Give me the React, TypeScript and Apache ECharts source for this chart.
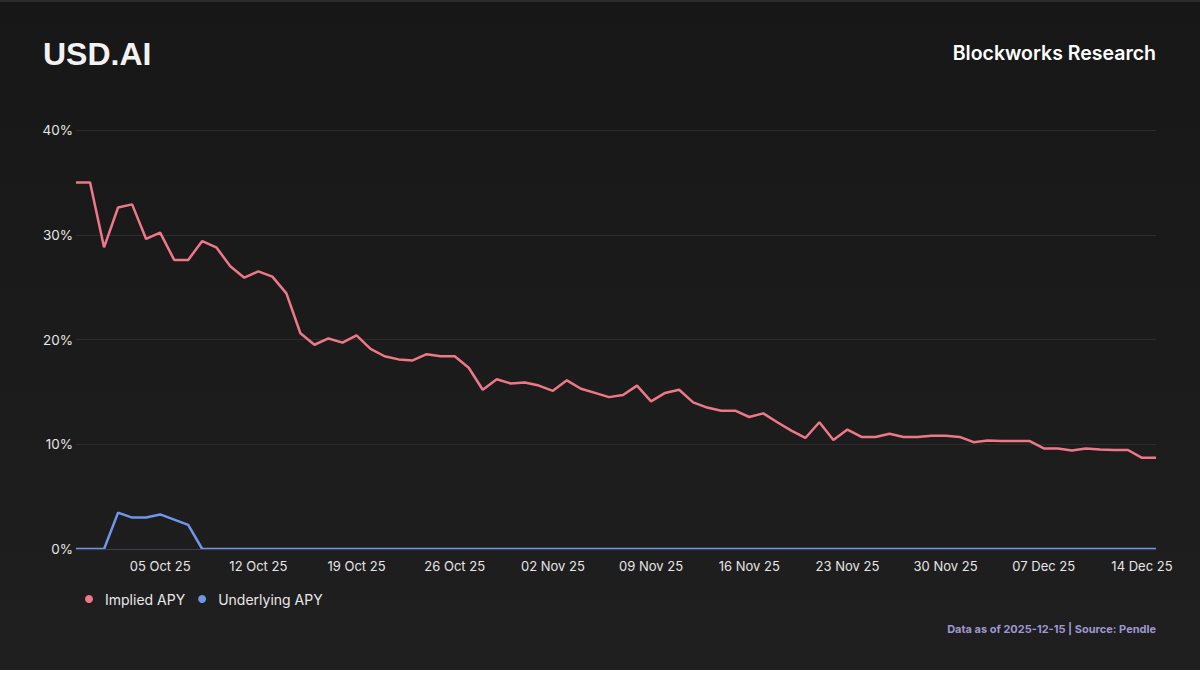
import React, { useEffect, useRef } from "react";
import * as echarts from "echarts";

const dates: string[] = [
  "29 Sep 25", "30 Sep 25", "01 Oct 25", "02 Oct 25", "03 Oct 25", "04 Oct 25", "05 Oct 25",
  "06 Oct 25", "07 Oct 25", "08 Oct 25", "09 Oct 25", "10 Oct 25", "11 Oct 25", "12 Oct 25",
  "13 Oct 25", "14 Oct 25", "15 Oct 25", "16 Oct 25", "17 Oct 25", "18 Oct 25", "19 Oct 25",
  "20 Oct 25", "21 Oct 25", "22 Oct 25", "23 Oct 25", "24 Oct 25", "25 Oct 25", "26 Oct 25",
  "27 Oct 25", "28 Oct 25", "29 Oct 25", "30 Oct 25", "31 Oct 25", "01 Nov 25", "02 Nov 25",
  "03 Nov 25", "04 Nov 25", "05 Nov 25", "06 Nov 25", "07 Nov 25", "08 Nov 25", "09 Nov 25",
  "10 Nov 25", "11 Nov 25", "12 Nov 25", "13 Nov 25", "14 Nov 25", "15 Nov 25", "16 Nov 25",
  "17 Nov 25", "18 Nov 25", "19 Nov 25", "20 Nov 25", "21 Nov 25", "22 Nov 25", "23 Nov 25",
  "24 Nov 25", "25 Nov 25", "26 Nov 25", "27 Nov 25", "28 Nov 25", "29 Nov 25", "30 Nov 25",
  "01 Dec 25", "02 Dec 25", "03 Dec 25", "04 Dec 25", "05 Dec 25", "06 Dec 25", "07 Dec 25",
  "08 Dec 25", "09 Dec 25", "10 Dec 25", "11 Dec 25", "12 Dec 25", "13 Dec 25", "14 Dec 25",
  "15 Dec 25",
];

const impliedApy: number[] = [
  35.0, 35.0, 28.8, 32.6, 32.9, 29.6, 30.2, 27.6, 27.6, 29.4, 28.8, 27.0, 25.9, 26.5, 26.0, 24.4,
  20.6, 19.5, 20.1, 19.7, 20.4, 19.1, 18.4, 18.1, 18.0, 18.6, 18.4, 18.4, 17.3, 15.2, 16.2, 15.8,
  15.9, 15.6, 15.1,
  16.1, 15.3, 14.9, 14.5, 14.7, 15.6, 14.1, 14.9, 15.2, 14.0, 13.5, 13.2, 13.2, 12.6, 12.95, 12.1,
  11.3, 10.6, 12.1, 10.4,
  11.4, 10.7, 10.7, 11.0, 10.7, 10.7, 10.8, 10.8, 10.7, 10.2, 10.35, 10.3, 10.3, 10.3, 9.6, 9.6,
  9.4, 9.6, 9.5, 9.45, 9.45, 8.7, 8.7,
];

const underlyingApy: number[] = [
  0, 0, 0, 3.47, 3.0, 3.0, 3.3, 2.8, 2.3, 0, 0, 0, 0, 0, 0, 0,
  0, 0, 0, 0, 0, 0, 0, 0, 0, 0, 0, 0, 0, 0, 0, 0, 0, 0, 0,
  0, 0, 0, 0, 0, 0, 0, 0, 0, 0, 0, 0, 0, 0, 0, 0, 0, 0, 0, 0,
  0, 0, 0, 0, 0, 0, 0, 0, 0, 0, 0, 0, 0, 0, 0, 0, 0, 0, 0, 0, 0, 0, 0,
];

const yTicks = [0, 10, 20, 30, 40];

const TITLE = "USD.AI";
const BRAND = "Blockworks Research";
const FOOTER = "Data as of 2025-12-15 | Source: Pendle";

export default function App() {
  const ref = useRef<HTMLDivElement>(null);

  useEffect(() => {
    if (!ref.current) return;
    const chart = echarts.init(ref.current, null, { renderer: "svg" });
    chart.setOption({
      animation: false,
      backgroundColor: {
        type: "linear",
        x: 0,
        y: 0,
        x2: 0,
        y2: 1,
        colorStops: [
          { offset: 0, color: "#171717" },
          { offset: 1, color: "#1f1f1f" },
        ],
      },
      graphic: [
        { type: "rect", shape: { x: 0, y: 0, width: 1200, height: 2 }, style: { fill: "#2c2c2c" } },
        {
          type: "text",
          left: 43,
          top: 38,
          style: {
            text: TITLE,
            fill: "#f2f2f2",
            font: "bold 32px 'Liberation Sans', Arial, sans-serif",
          },
        },
        {
          type: "text",
          right: 44,
          top: 43,
          style: {
            text: BRAND,
            fill: "#ffffff",
            font: "600 19.5px Inter, sans-serif",
          },
        },
        {
          type: "text",
          right: 44,
          top: 623,
          style: {
            text: FOOTER,
            fill: "#9d97cf",
            font: "bold 11px Inter, sans-serif",
          },
        },
      ],
      legend: {
        left: 80,
        top: 587,
        icon: "circle",
        itemWidth: 8,
        itemHeight: 8,
        itemGap: 13,
        textStyle: {
          color: "#e8e8e8",
          fontSize: 14,
          fontFamily: "Inter, sans-serif",
          padding: [0, 0, 0, 7],
        },
        data: ["Implied APY", "Underlying APY"],
      },
      grid: { left: 76, right: 44, top: 130, height: 419 },
      xAxis: {
        type: "category",
        data: dates,
        boundaryGap: false,
        z: 5,
        axisLine: { show: true, lineStyle: { color: "#3c4150", width: 1 } },
        axisTick: { show: false },
        axisLabel: {
          color: "#e6e6e6",
          fontSize: 13,
          fontFamily: "Inter, sans-serif",
          margin: 10,
          interval: (index: number) => index >= 6 && (index - 6) % 7 === 0,
        },
        splitLine: { show: false },
      },
      yAxis: {
        type: "value",
        min: yTicks[0],
        max: yTicks[yTicks.length - 1],
        interval: 10,
        axisLine: { show: false },
        axisTick: { show: false },
        axisLabel: {
          color: "#e6e6e6",
          fontSize: 13.5,
          fontFamily: "Inter, sans-serif",
          margin: 3,
          formatter: (v: number) => `${v}%`,
        },
        splitLine: { lineStyle: { color: "#2c2c2c", width: 1 } },
      },
      series: [
        {
          name: "Implied APY",
          type: "line",
          data: impliedApy,
          showSymbol: false,
          symbol: "circle",
          itemStyle: { color: "#ef7888" },
          lineStyle: { color: "#ef7888", width: 2.5 },
          z: 3,
        },
        {
          name: "Underlying APY",
          type: "line",
          data: underlyingApy,
          showSymbol: false,
          symbol: "circle",
          itemStyle: { color: "#6f96e8" },
          lineStyle: { color: "#6f96e8", width: 2.5 },
          z: 2,
        },
      ],
    });
    return () => chart.dispose();
  }, []);

  return (
    <div style={{ position: "absolute", left: 0, top: 0, width: 1200, height: 675, background: "#ffffff" }}>
      <div ref={ref} style={{ width: 1200, height: 670 }} />
    </div>
  );
}
